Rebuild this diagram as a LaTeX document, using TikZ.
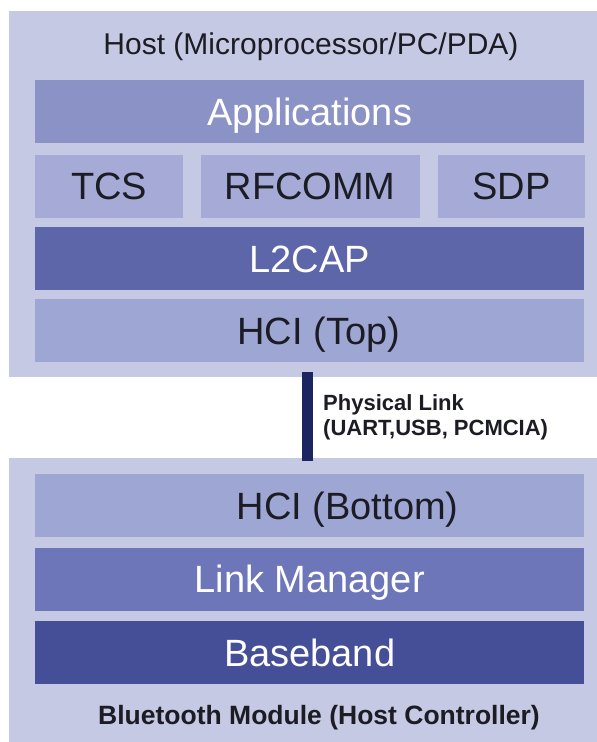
\documentclass[tikz,border=0pt]{standalone}
\usepackage{fontspec}
\setmainfont{Liberation Sans}
\usepackage{xcolor}
\usetikzlibrary{positioning}

\definecolor{panelbg}{HTML}{C6C9E3}
\definecolor{appfill}{HTML}{8A92C6}
\definecolor{protofill}{HTML}{A5ABD6}
\definecolor{l2capfill}{HTML}{5D66A8}
\definecolor{hcifill}{HTML}{9EA6D4}
\definecolor{lmfill}{HTML}{6D76B9}
\definecolor{bbfill}{HTML}{454F98}
\definecolor{barcol}{HTML}{1B2560}
\definecolor{darktext}{HTML}{1C1C24}

\begin{document}
\begin{tikzpicture}[
    x=1pt, y=-1pt,
    node distance=9pt and 17pt,
    panelbox/.style={
        rectangle, fill=panelbg, anchor=north west, inner sep=0pt,
        minimum width=588pt
    },
    layerbox/.style={
        rectangle, inner sep=0pt, minimum width=549pt, minimum height=63pt,
        text height=27pt, text depth=0pt, font=\fontsize{38}{41}\selectfont
    },
    appbox/.style={layerbox, fill=appfill, text=white},
    protobox/.style={layerbox, fill=protofill, text=darktext, minimum width=148pt},
    l2capbox/.style={layerbox, fill=l2capfill, text=white},
    hcibox/.style={layerbox, fill=hcifill},
    lmbox/.style={layerbox, fill=lmfill, text=white},
    bbbox/.style={layerbox, fill=bbfill, text=white},
    hcilabel/.style={
        inner sep=0pt, text=darktext, text height=27pt, text depth=0pt,
        font=\fontsize{38}{41}\selectfont
    },
    paneltitle/.style={text=darktext, inner sep=0pt},
    linkbar/.style={line width=11pt, barcol},
    linklabel/.style={
        text=darktext, align=left, inner sep=0pt, anchor=north west,
        font=\bfseries\fontsize{22}{25}\selectfont
    },
]
\useasboundingbox[fill=white] (0,0) rectangle (597,742);

% ---- Host panel ----
\node[panelbox, minimum height=366pt] (host) at (9,11) {};
\node[paneltitle, font=\fontsize{30}{33}\selectfont] (hosttitle) at (311,47)
     {Host (Microprocessor/PC/PDA)};

\node[appbox, anchor=north west] (apps) at (35,80) {Applications};

\node[protobox, below=11pt of apps.south west, anchor=north west] (tcs) {TCS};
\node[protobox, right=of tcs, minimum width=219pt] (rfcomm) {RFCOMM};
\node[protobox, right=18pt of rfcomm, minimum width=147pt] (sdp) {SDP};

\node[l2capbox, below=of tcs.south west, anchor=north west] (l2cap) {L2CAP};
\node[hcibox, below=of l2cap,
      label={[hcilabel, xshift=9pt]center:HCI (Top)}] (hcitop) {};

% ---- Bluetooth module panel ----
\node[panelbox, minimum height=284pt] (module) at (9,458) {};

\node[hcibox, anchor=north west,
      label={[hcilabel, xshift=38pt]center:HCI (Bottom)}] (hcibot) at (35,474) {};
\node[lmbox, below=10pt of hcibot] (lm) {Link Manager};
\node[bbbox, below=10pt of lm] (bb) {Baseband};

\node[paneltitle, font=\bfseries\fontsize{26.5}{29}\selectfont] (modtitle) at (319,718)
     {Bluetooth Module (Host Controller)};

% ---- Physical link ----
\draw[linkbar, shorten <=-5pt, shorten >=-3pt]
     ([xshift=4.5pt]host.south) -- ([xshift=4.5pt]module.north);
\node[linklabel] (linktext) at (323,394) {Physical Link\\(UART,USB, PCMCIA)};

\end{tikzpicture}
\end{document}
